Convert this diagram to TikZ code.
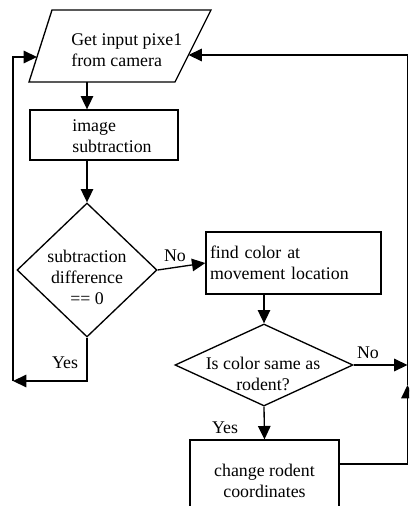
\documentclass[tikz,border=0pt]{standalone}
\usepackage{fontspec}
\setmainfont{Liberation Serif}
\usetikzlibrary{shapes.geometric,arrows.meta,positioning,calc}
\tikzset{
    box/.style={draw, line width=0.8pt, rectangle, inner sep=0pt},
    decision/.style={draw, line width=0.8pt, diamond, inner sep=0pt},
    txt/.style={inner sep=0pt, font=\fontsize{10.7}{12.6}\selectfont},
    arr/.style={line width=0.8pt, -{Triangle[length=8pt,width=7.5pt]}},
    plain/.style={line width=0.8pt}
}
\begin{document}
\begin{tikzpicture}[x=0.6pt,y=-0.6pt]
    \useasboundingbox (0,0) rectangle (409,506);
    \clip (0,0) rectangle (409,506);
    \fill[white] (0,0) rectangle (409,506);

    % Input
    \draw[plain] (52,10) -- (211,10) -- (175,82) -- (29,82) -- cycle;
    \node[txt, align=left, anchor=west] (intxt) at (71,50.5) {Get input pixe1\\from camera};
    \coordinate (inL) at (37,57);
    \coordinate (inR) at (188.5,55);
    \coordinate (inB) at (87,82);

    % Subtraction
    \node[box, minimum width=88.8pt, minimum height=30pt] (sub) at (104,135) {};
    \node[txt, align=left, anchor=west] (subtxt) at (72,136.5) {image\\subtraction};

    % Difference test
    \node[decision, minimum width=84pt, minimum height=80.4pt] (diff) at (87,270) {};
    \node[txt, align=center] (difftxt) at (87,277) {subtraction\\difference\\== 0};

    % Colour lookup
    \node[box, txt, align=left, text width=100.2pt, inner xsep=2.4pt,
          minimum height=37.2pt] (find) at (293.5,263) {find color at\\movement location};

    % Colour test
    \node[decision, minimum width=106.8pt, minimum height=49.2pt] (same) at (264,365) {};
    \node[txt, align=center] (sametxt) at (263,374) {Is color same as\\rodent?};

    % Update
    \node[box, txt, align=center, minimum width=89.4pt, minimum height=49.2pt] (chg) at (264.5,481) {change rodent\\coordinates};

    % Corners
    \coordinate (bl) at (13,381);
    \coordinate (ru) at (407.5,385);
    \coordinate (chgR) at (339,464);

    % Connectors
    \draw[arr] (inB) -- (inB |- sub.north);
    \draw[arr] (diff.north |- sub.south) -- (diff.north);
    \draw[arr] (diff.east) -- (find.west);
    \draw[arr] (same.north |- find.south) -- (same.north);
    \draw[arr] (same.east) -- (same.east -| ru);
    \draw[arr] (same.south) -- (chg.north);
    \draw[arr] (diff.south) |- (bl);
    \draw[arr] (bl) |- (inL);
    \draw[arr] (chgR) -| (ru);
    \draw[arr] (ru) |- (inR);

    % Labels
    \node[txt] (no1) at (175,256) {No};
    \node[txt] (yes1) at (65,363) {Yes};
    \node[txt] (no2) at (368,353) {No};
    \node[txt] (yes2) at (225,428) {Yes};
\end{tikzpicture}
\end{document}
